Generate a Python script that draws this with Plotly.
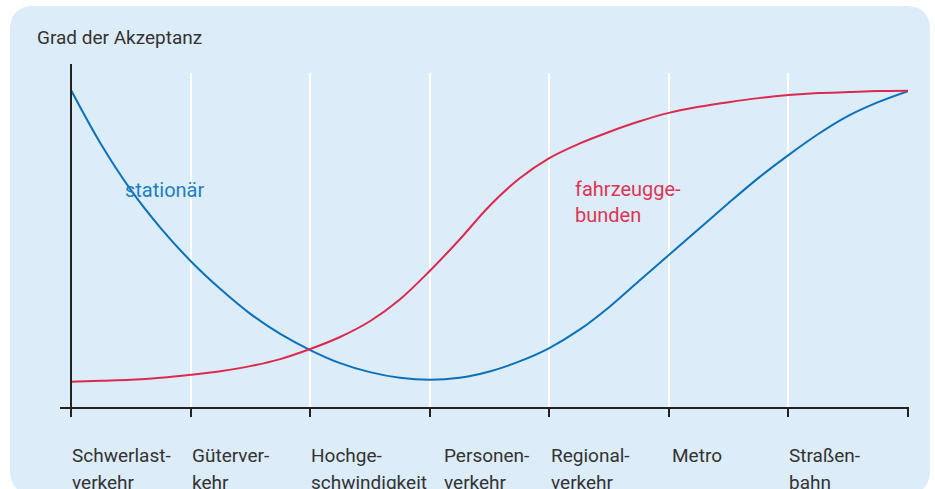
import plotly.graph_objects as go

label_line1 = ["Schwerlast-", "Güterver-", "Hochge-", "Personen-", "Regional-", "Metro", "Straßen-"]
label_line2 = ["verkehr", "kehr", "schwindigkeit", "verkehr", "verkehr", "", "bahn"]
x_pos = [0, 0.25, 0.5, 0.75, 1, 1.25, 1.5, 1.75, 2, 2.25, 2.5, 2.75, 3, 3.25, 3.5,
         3.75, 4, 4.25, 4.5, 4.75, 5, 5.25, 5.5, 5.75, 6, 6.25, 6.5, 6.75, 7]
stationaer = [94.9, 78.8, 65.1, 53.7, 43.9, 35.5, 28.1, 22.1, 17.3, 13.4, 10.7, 9.0, 8.4,
              9.0, 10.9, 13.9, 17.9, 23.3, 30.1, 37.9, 45.7, 53.4, 61.2, 68.7, 75.5,
              81.8, 87.2, 91.3, 94.6]
fahrzeug = [7.8, 8.1, 8.4, 9.0, 9.9, 11.0, 12.5, 14.6, 17.6, 21.2, 25.9, 32.4, 40.9,
            50.3, 60.3, 68.5, 74.6, 78.9, 82.4, 85.5, 88.1, 89.9, 91.3, 92.5, 93.4,
            94.0, 94.3, 94.6, 94.7]
label_shift = [0, 0, 0, 13, 1, 2, 0]

W, H = 935, 489
L, R, T, B = 71, 27, 73, 81
pw, ph = W - L - R, H - T - B

def px(x):
    return (x - L) / pw

def py(y):
    return (H - B - y) / ph

FONT = "Roboto"
BLUE = "#0b72b8"
RED = "#dc2a4e"
BG = "#dcecf8"
TXT = "#333333"

fig = go.Figure()
fig.add_trace(go.Scatter(x=x_pos, y=stationaer, mode="lines",
                         line=dict(color=BLUE, width=2, shape="spline", smoothing=1.0),
                         hoverinfo="skip", showlegend=False))
fig.add_trace(go.Scatter(x=x_pos, y=fahrzeug, mode="lines",
                         line=dict(color=RED, width=2, shape="spline", smoothing=1.0),
                         hoverinfo="skip", showlegend=False))

# rounded background box
x0, x1, y0, y1, r = 10, 930, 6, 494, 24
rx, ry = r / pw, r / ph
X0, X1, Y0, Y1 = px(x0), px(x1), py(y0), py(y1)
path = (f"M {X0+rx},{Y0} L {X1-rx},{Y0} Q {X1},{Y0} {X1},{Y0-ry} "
        f"L {X1},{Y1+ry} Q {X1},{Y1} {X1-rx},{Y1} L {X0+rx},{Y1} Q {X0},{Y1} {X0},{Y1+ry} "
        f"L {X0},{Y0-ry} Q {X0},{Y0} {X0+rx},{Y0} Z")
shapes = [dict(type="path", path=path, xref="paper", yref="paper",
               fillcolor=BG, line=dict(width=0), layer="below")]
# axis lines
shapes.append(dict(type="line", xref="paper", yref="paper", x0=px(71), x1=px(71),
                   y0=py(64), y1=py(410), line=dict(color="#222222", width=2), layer="above"))
shapes.append(dict(type="line", xref="paper", yref="paper", x0=px(60), x1=px(909),
                   y0=py(408), y1=py(408), line=dict(color="#222222", width=2), layer="above"))

annotations = []
for i, (l1, l2) in enumerate(zip(label_line1, label_line2)):
    for j, txt in enumerate([l1, l2]):
        if not txt:
            continue
        annotations.append(dict(x=i, y=py(442 + 26.5 * j), xref="x", yref="paper", text=txt,
                                showarrow=False, xanchor="left", yanchor="top", align="left",
                                xshift=label_shift[i] - 1,
                                font=dict(family=FONT, size=19, color=TXT)))
annotations.append(dict(x=px(35), y=py(38), xref="paper", yref="paper", text="Grad der Akzeptanz",
                        showarrow=False, xanchor="left", yanchor="middle",
                        font=dict(family=FONT, size=19, color=TXT)))
annotations.append(dict(x=(123 - L) / (pw / 7), y=(408 - 190) / ph * 100, xref="x", yref="y",
                        text="stationär", showarrow=False, xanchor="left", yanchor="middle",
                        font=dict(family=FONT, size=20, color="#1b7fc0")))
annotations.append(dict(x=(573 - L) / (pw / 7), y=(408 - 202) / ph * 100, xref="x", yref="y",
                        text="fahrzeugge-<br>bunden", showarrow=False, xanchor="left",
                        yanchor="middle", align="left",
                        font=dict(family=FONT, size=20, color="#dc3555")))

fig.update_layout(
    width=W, height=H,
    margin=dict(l=L, r=R, t=T, b=B, pad=0),
    paper_bgcolor="white", plot_bgcolor="rgba(0,0,0,0)",
    shapes=shapes, annotations=annotations,
    xaxis=dict(range=[0, 7], tickvals=list(range(8)), ticktext=[""] * 8,
               showgrid=True, gridcolor="white", gridwidth=1.5, zeroline=False,
               showline=False, ticks="outside", ticklen=8, tickwidth=2, tickcolor="#222222",
               fixedrange=True),
    yaxis=dict(range=[0, 100], tickvals=[100], showticklabels=False, showgrid=True,
               gridcolor="white", gridwidth=1.5, zeroline=False, showline=False,
               ticks="", fixedrange=True),
    font=dict(family=FONT, color=TXT),
)
fig.write_html("out.html", config={"displayModeBar": False},
               post_script="document.body.style.margin='0';document.body.style.overflow='hidden';")
